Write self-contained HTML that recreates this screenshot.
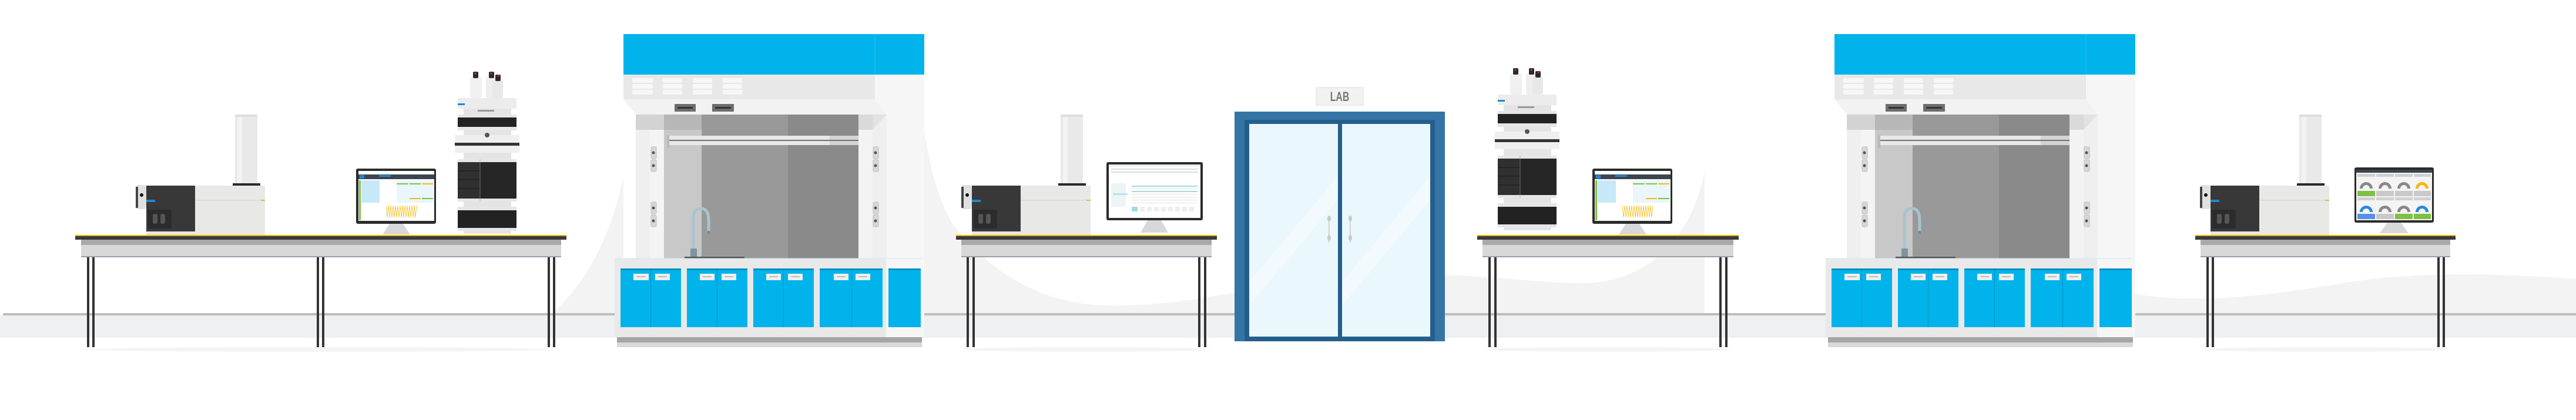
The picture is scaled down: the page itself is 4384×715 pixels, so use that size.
<!DOCTYPE html>
<html><head><meta charset="utf-8"><style>
html,body{margin:0;padding:0;background:#fff;}
svg{display:block}
</style></head><body>
<svg width="4384" height="715" viewBox="0 0 4384 715" xmlns="http://www.w3.org/2000/svg">
<defs>
<g id="ms">
  <rect x="400" y="195" width="38" height="118" fill="#e9e9e9"/>
  <rect x="404" y="197" width="8" height="116" fill="#f3f3f3"/>
  <rect x="400" y="195" width="38" height="4" fill="#dedede"/>
  <rect x="396" y="312" width="47" height="4" fill="#2a2a2a"/>
  <rect x="332" y="316" width="119" height="84" fill="#e8e8e6"/>
  <rect x="332" y="340" width="119" height="2" fill="#dcdcdc"/>
  <rect x="444" y="340" width="7" height="2" fill="#b5d33a"/>
  <rect x="249" y="316" width="83" height="78" fill="#383838"/>
  <rect x="249" y="394" width="83" height="6" fill="#e6e6e6"/>
  <rect x="252" y="357" width="40" height="32" fill="#2c2c2c"/>
  <rect x="260" y="364" width="8" height="17" rx="3" fill="#555"/>
  <rect x="273" y="364" width="8" height="17" rx="3" fill="#555"/>
  <rect x="249" y="340" width="15" height="4" fill="#1e88d0"/>
  <rect x="231" y="315" width="18" height="41" rx="4" fill="#e0e0e0"/>
  <rect x="231" y="318" width="4" height="36" fill="#444"/>
  <circle cx="241" cy="332" r="3" fill="#111"/>
</g>
<g id="lc">
  <rect x="800" y="131" width="20" height="36" rx="4" fill="#f0f0f0"/>
  <rect x="827" y="131" width="20" height="36" rx="4" fill="#eeeeee"/>
  <rect x="838" y="136" width="18" height="31" rx="4" fill="#e8e8e8"/>
  <rect x="805" y="122" width="9" height="11" rx="2" fill="#2a2a2a"/>
  <rect x="832" y="122" width="9" height="11" rx="2" fill="#2a2a2a"/>
  <rect x="843" y="127" width="9" height="11" rx="2" fill="#2a2a2a"/>
  <circle cx="809" cy="125" r="1.5" fill="#e33"/><circle cx="836" cy="125" r="1.5" fill="#e33"/><circle cx="848" cy="129" r="1.5" fill="#e33"/>
  <rect x="779" y="167" width="100" height="18" fill="#ececec"/>
  <rect x="779" y="176" width="12" height="3" fill="#1e88d0"/>
  <rect x="789" y="185" width="81" height="10" fill="#e4e4e4"/>
  <rect x="813" y="187" width="28" height="3" fill="#999"/>
  <rect x="779" y="195" width="100" height="27" fill="#e6e6e6"/>
  <rect x="779" y="200" width="100" height="16" fill="#222"/>
  <rect x="789" y="222" width="81" height="8" fill="#e4e4e4"/>
  <rect x="774" y="230" width="110" height="30" fill="#efefef"/>
  <rect x="774" y="243" width="110" height="5" fill="#333"/>
  <circle cx="829" cy="230" r="4" fill="#555"/>
  <rect x="789" y="260" width="81" height="11" fill="#e4e4e4"/>
  <rect x="779" y="271" width="100" height="72" fill="#e6e6e6"/>
  <rect x="779" y="276" width="100" height="62" fill="#262626"/>
  <rect x="779" y="276" width="38" height="62" fill="#303030"/>
  <line x1="779" y1="291" x2="817" y2="291" stroke="#1a1a1a"/>
  <line x1="779" y1="306" x2="817" y2="306" stroke="#1a1a1a"/>
  <line x1="779" y1="321" x2="817" y2="321" stroke="#1a1a1a"/>
  <line x1="817" y1="271" x2="817" y2="343" stroke="#999" stroke-width="0.6"/>
  <rect x="789" y="343" width="81" height="9" fill="#e4e4e4"/>
  <rect x="779" y="352" width="100" height="41" fill="#e6e6e6"/>
  <rect x="779" y="358" width="100" height="30" fill="#222"/>
  <rect x="789" y="393" width="81" height="5" fill="#e4e4e4"/>
</g>
<g id="mon1">
  <rect x="606" y="287" width="136" height="94" rx="3" fill="#2b2b2b"/>
  <rect x="610" y="291" width="129" height="85" fill="#ffffff"/>
  <rect x="610" y="297" width="129" height="8" fill="#3b4450"/>
  <rect x="612" y="298" width="8" height="6" fill="#1e88d0"/>
  <rect x="645" y="298" width="20" height="3" fill="#1e88d0"/>
  <rect x="611" y="307" width="3" height="68" fill="#7cc142"/>
  <rect x="615" y="307" width="31" height="38" fill="#c7e8f7"/>
  <rect x="675" y="307" width="63" height="38" fill="#e9f6fc"/>
  <rect x="675" y="312" width="20" height="2" fill="#7cc142"/><rect x="697" y="312" width="19" height="2" fill="#7cc142"/><rect x="718" y="312" width="19" height="2" fill="#f5b914"/>
  <rect x="697" y="337" width="19" height="2" fill="#f5b914"/><rect x="718" y="337" width="19" height="2" fill="#7cc142"/>
  <rect x="615" y="345" width="123" height="29" fill="#fff"/>
  <path d="M657 350 L659 370 L661 350 L663 370 L665 350 L667 370 L669 350 L671 370 L673 350 L675 370 L677 350 L679 370 L681 350 L683 370 L685 350 L687 370 L689 350 L691 370 L693 350 L695 370 L697 350 L699 370 L701 350 L703 370 L705 350 L707 370 L709 350" fill="none" stroke="#f5b914" stroke-width="0.8"/>
  <path d="M663 381 L686 381 L698 399 L651 399 Z" fill="#d8d8d8"/>
</g>
<g id="hood">
  <rect x="1061" y="58" width="512" height="69" fill="#00b4eb"/>
  <line x1="1489" y1="58" x2="1489" y2="127" stroke="#2bc0ef" stroke-width="1"/>
  <rect x="1061" y="127" width="428" height="42" fill="#e8e8e8"/>
  <rect x="1489" y="127" width="84" height="447" fill="#f6f6f6"/>
  <g fill="#f7f7f7">
    <rect x="1076" y="133" width="35" height="8" rx="2"/><rect x="1076" y="143" width="35" height="8" rx="2"/><rect x="1076" y="153" width="35" height="8" rx="2"/>
    <rect x="1128" y="133" width="33" height="8" rx="2"/><rect x="1128" y="143" width="33" height="8" rx="2"/><rect x="1128" y="153" width="33" height="8" rx="2"/>
    <rect x="1179" y="133" width="33" height="8" rx="2"/><rect x="1179" y="143" width="33" height="8" rx="2"/><rect x="1179" y="153" width="33" height="8" rx="2"/>
    <rect x="1230" y="133" width="33" height="8" rx="2"/><rect x="1230" y="143" width="33" height="8" rx="2"/><rect x="1230" y="153" width="33" height="8" rx="2"/>
  </g>
  <path d="M1061 169 L1489 169 L1509 195 L1082 195 Z" fill="#f2f2f2"/>
  <rect x="1148" y="177" width="36" height="13" fill="#6d6d6d"/><rect x="1153" y="182" width="26" height="3" fill="#333"/>
  <rect x="1212" y="177" width="37" height="13" fill="#6d6d6d"/><rect x="1217" y="182" width="27" height="3" fill="#333"/>
  <rect x="1082" y="195" width="427" height="245" fill="#efefef"/>
  <rect x="1082" y="195" width="48" height="26" fill="#d3d3d3"/>
  <rect x="1106" y="221" width="24" height="219" fill="#f4f4f4"/>
  <rect x="1130" y="195" width="64" height="245" fill="#c8c8c8"/>
  <rect x="1130" y="195" width="64" height="26" fill="#b7b7b7"/>
  <rect x="1194" y="195" width="147" height="245" fill="#999999"/>
  <rect x="1341" y="195" width="120" height="245" fill="#8a8a8a"/>
  <rect x="1461" y="195" width="24" height="26" fill="#dadada"/>
  <rect x="1461" y="221" width="24" height="219" fill="#f3f3f3"/>
  <path d="M1485 195 L1509 195 L1485 221 Z" fill="#e2e2e2"/>
  <rect x="1135" y="230" width="5" height="22" fill="#b9b9b9"/>
  <rect x="1139" y="231" width="322" height="16" fill="#e8e8e8"/>
  <rect x="1412" y="231" width="49" height="16" fill="#d4d4d4"/>
  <rect x="1139" y="238" width="322" height="2" fill="#707070"/>
  <g fill="#d7d7d7" stroke="#bdbdbd" stroke-width="1">
    <rect x="1108" y="250" width="9" height="20" rx="2"/><rect x="1108" y="272" width="9" height="20" rx="2"/>
    <rect x="1108" y="344" width="9" height="20" rx="2"/><rect x="1108" y="366" width="9" height="20" rx="2"/>
    <rect x="1486" y="250" width="9" height="20" rx="2"/><rect x="1486" y="272" width="9" height="20" rx="2"/>
    <rect x="1486" y="344" width="9" height="20" rx="2"/><rect x="1486" y="366" width="9" height="20" rx="2"/>
  </g>
  <g fill="#555"><circle cx="1112" cy="260" r="2.5"/><circle cx="1112" cy="282" r="2.5"/><circle cx="1112" cy="354" r="2.5"/><circle cx="1112" cy="376" r="2.5"/>
  <circle cx="1490" cy="260" r="2.5"/><circle cx="1490" cy="282" r="2.5"/><circle cx="1490" cy="354" r="2.5"/><circle cx="1490" cy="376" r="2.5"/></g>
  <path d="M1180 425 L1180 370 Q1180 355 1193 355 Q1206 355 1206 375 L1206 395" fill="none" stroke="#a9c3cf" stroke-width="5"/>
  <rect x="1204" y="393" width="4" height="5" fill="#6d8a98"/>
  <rect x="1175" y="423" width="11" height="15" fill="#7e949e"/>
  <rect x="1165" y="437" width="102" height="3" fill="#555"/>
  <rect x="1046" y="440" width="462" height="134" fill="#e9e9e9"/>
  <rect x="1508" y="440" width="61" height="134" fill="#f6f6f6"/>
  <line x1="1046" y1="440" x2="1569" y2="440" stroke="#cfe8f2" stroke-width="1"/>
  <g fill="#00b4eb">
    <rect x="1056" y="457" width="103" height="100"/><rect x="1169" y="457" width="103" height="100"/>
    <rect x="1282" y="457" width="103" height="100"/><rect x="1395" y="457" width="107" height="100"/>
    <rect x="1512" y="457" width="55" height="100"/>
  </g>
  <g fill="#0a8fbd">
    <rect x="1056" y="457" width="103" height="3"/><rect x="1169" y="457" width="103" height="3"/>
    <rect x="1282" y="457" width="103" height="3"/><rect x="1395" y="457" width="107" height="3"/>
    <rect x="1512" y="457" width="55" height="3"/>
    <rect x="1107" y="457" width="1" height="100"/><rect x="1220" y="457" width="1" height="100"/>
    <rect x="1333" y="457" width="1" height="100"/><rect x="1449" y="457" width="1" height="100"/>
  </g>
  <g fill="#f0f0f0"><rect x="1078" y="466" width="26" height="11"/><rect x="1115" y="466" width="25" height="11"/>
  <rect x="1191" y="466" width="25" height="11"/><rect x="1228" y="466" width="25" height="11"/>
  <rect x="1304" y="466" width="25" height="11"/><rect x="1341" y="466" width="25" height="11"/>
  <rect x="1419" y="466" width="25" height="11"/><rect x="1456" y="466" width="25" height="11"/></g>
  <g fill="#bdbdbd"><rect x="1083" y="470" width="16" height="2"/><rect x="1120" y="470" width="15" height="2"/>
  <rect x="1196" y="470" width="15" height="2"/><rect x="1233" y="470" width="15" height="2"/>
  <rect x="1309" y="470" width="15" height="2"/><rect x="1346" y="470" width="15" height="2"/>
  <rect x="1424" y="470" width="15" height="2"/><rect x="1461" y="470" width="15" height="2"/></g>
  <rect x="1050" y="574" width="519" height="9" fill="#a5a5a5"/>
  <rect x="1050" y="583" width="519" height="8" fill="#d9d9d9"/>
</g>
</defs>

<g fill="#f3f3f3">
  <path d="M940 533 C1000 480 1040 400 1061 300 L1061 533 Z"/>
  <path d="M1569 200 C1585 300 1595 330 1620 380 C1690 470 1780 520 1890 520 C1990 520 2060 505 2101 498 L2101 533 L1569 533 Z"/>
  <path d="M2459 468 C2540 470 2620 482 2700 482 C2810 478 2880 400 2901 292 L2901 533 L2459 533 Z"/>
  <path d="M3630 500 C3750 520 3880 500 4000 480 C4120 462 4250 465 4384 475 L4384 533 L3630 533 Z"/>
</g>
<rect x="5" y="533" width="4379" height="4" fill="#bdbdbd"/>
<rect x="0" y="537" width="4384" height="38" fill="#eef0f1"/>

<g fill="#f4f4f4"><ellipse cx="545" cy="595" rx="400" ry="4"/><ellipse cx="1850" cy="595" rx="210" ry="4"/><ellipse cx="2737" cy="595" rx="210" ry="4"/><ellipse cx="3958" cy="595" rx="210" ry="4"/></g>

<use href="#hood"/>
<use href="#hood" transform="translate(2061,0)"/>

<g>
  <rect x="128" y="400" width="836" height="2" fill="#f0b400"/>
  <rect x="128" y="402" width="836" height="6" fill="#3a3a3a"/>
  <rect x="138" y="408" width="817" height="9" fill="#a9a9a9"/>
  <rect x="138" y="417" width="817" height="20" fill="#d8d8d8"/>
  <rect x="138" y="436" width="817" height="2" fill="#9c9cab"/>
  <g fill="#333"><rect x="148" y="438" width="4" height="153"/><rect x="157" y="438" width="4" height="153"/>
  <rect x="539" y="438" width="4" height="153"/><rect x="548" y="438" width="4" height="153"/>
  <rect x="932" y="438" width="4" height="153"/><rect x="941" y="438" width="4" height="153"/></g>
</g>
<g>
  <rect x="1627" y="400" width="444" height="2" fill="#f0b400"/>
  <rect x="1627" y="402" width="444" height="6" fill="#3a3a3a"/>
  <rect x="1636" y="408" width="426" height="9" fill="#a9a9a9"/>
  <rect x="1636" y="417" width="426" height="20" fill="#d8d8d8"/>
  <rect x="1636" y="436" width="426" height="2" fill="#9c9cab"/>
  <g fill="#333"><rect x="1645" y="438" width="4" height="153"/><rect x="1655" y="438" width="4" height="153"/>
  <rect x="2039" y="438" width="4" height="153"/><rect x="2049" y="438" width="4" height="153"/></g>
</g>
<g>
  <rect x="2514" y="400" width="445" height="2" fill="#f0b400"/>
  <rect x="2514" y="402" width="445" height="6" fill="#3a3a3a"/>
  <rect x="2523" y="408" width="427" height="9" fill="#a9a9a9"/>
  <rect x="2523" y="417" width="427" height="20" fill="#d8d8d8"/>
  <rect x="2523" y="436" width="427" height="2" fill="#9c9cab"/>
  <g fill="#333"><rect x="2533" y="438" width="4" height="153"/><rect x="2543" y="438" width="4" height="153"/>
  <rect x="2926" y="438" width="4" height="153"/><rect x="2936" y="438" width="4" height="153"/></g>
</g>
<g>
  <rect x="3736" y="400" width="443" height="2" fill="#f0b400"/>
  <rect x="3736" y="402" width="443" height="6" fill="#3a3a3a"/>
  <rect x="3745" y="408" width="425" height="9" fill="#a9a9a9"/>
  <rect x="3745" y="417" width="425" height="20" fill="#d8d8d8"/>
  <rect x="3745" y="436" width="425" height="2" fill="#9c9cab"/>
  <g fill="#333"><rect x="3755" y="438" width="4" height="153"/><rect x="3764" y="438" width="4" height="153"/>
  <rect x="4148" y="438" width="4" height="153"/><rect x="4157" y="438" width="4" height="153"/></g>
</g>

<use href="#ms"/>
<use href="#ms" transform="translate(1405,0)"/>
<use href="#ms" transform="translate(3513,0)"/>

<use href="#lc"/>
<use href="#lc" transform="translate(1770,-6)"/>

<use href="#mon1"/>
<use href="#mon1" transform="translate(2104,0)"/>

<g>
  <rect x="1883" y="276" width="164" height="99" rx="3" fill="#2b2b2b"/>
  <rect x="1887" y="280" width="156" height="91" fill="#fff"/>
  <rect x="1887" y="280" width="156" height="4" fill="#f0f0f0"/>
  <g fill="#d5dde2"><rect x="1891" y="287" width="148" height="2"/><rect x="1891" y="292" width="148" height="2"/></g>
  <rect x="1891" y="312" width="25" height="40" fill="#eef3f5"/>
  <rect x="1894" y="329" width="25" height="3" fill="#b5e3ec"/>
  <rect x="1926" y="316" width="112" height="2" fill="#9fdbe6"/>
  <rect x="1926" y="325" width="112" height="2" fill="#9fdbe6"/>
  <g fill="#e3e3e3"><rect x="1926" y="320" width="112" height="1"/><rect x="1926" y="330" width="112" height="1"/><rect x="1926" y="335" width="112" height="1"/><rect x="1926" y="340" width="112" height="1"/><rect x="1926" y="345" width="112" height="1"/></g>
  <rect x="1926" y="352" width="10" height="8" fill="#9fdbe6"/>
  <g fill="#eeeeee"><rect x="1940" y="352" width="8" height="8"/><rect x="1952" y="352" width="8" height="8"/><rect x="1964" y="352" width="8" height="8"/><rect x="1976" y="352" width="8" height="8"/><rect x="1988" y="352" width="8" height="8"/><rect x="2000" y="352" width="8" height="8"/><rect x="2012" y="352" width="8" height="8"/><rect x="2024" y="352" width="8" height="8"/></g>
  <path d="M1953 375 L1976 375 L1988 396 L1941 396 Z" fill="#d8d8d8"/>
</g>

<g>
  <rect x="4007" y="285" width="135" height="94" rx="3" fill="#2b2b2b"/>
  <rect x="4010" y="289" width="129" height="86" fill="#f4f4f4"/>
  <rect x="4010" y="289" width="129" height="5" fill="#3b4450"/>
  <rect x="4012" y="296" width="30" height="5" fill="#d0d0d0"/>
  <path d="M4016 321 A11 11 0 0 1 4038 321 L4033 321 A6 6 0 0 0 4021 321 Z" fill="#888"/>
  <rect x="4012" y="325" width="30" height="9" fill="#7cc142"/>
  <rect x="4012" y="336" width="30" height="5" fill="#d0d0d0"/>
  <path d="M4016 361 A11 11 0 0 1 4038 361 L4033 361 A6 6 0 0 0 4021 361 Z" fill="#2a8ad8"/>
  <rect x="4012" y="364" width="30" height="9" fill="#5a8ee6"/>
  <rect x="4044" y="296" width="30" height="5" fill="#d0d0d0"/>
  <path d="M4048 321 A11 11 0 0 1 4070 321 L4065 321 A6 6 0 0 0 4053 321 Z" fill="#888"/>
  <rect x="4044" y="325" width="30" height="9" fill="#c9c9c9"/>
  <rect x="4044" y="336" width="30" height="5" fill="#d0d0d0"/>
  <path d="M4048 361 A11 11 0 0 1 4070 361 L4065 361 A6 6 0 0 0 4053 361 Z" fill="#888"/>
  <rect x="4044" y="364" width="30" height="9" fill="#c9c9c9"/>
  <rect x="4076" y="296" width="30" height="5" fill="#d0d0d0"/>
  <path d="M4080 321 A11 11 0 0 1 4102 321 L4097 321 A6 6 0 0 0 4085 321 Z" fill="#888"/>
  <rect x="4076" y="325" width="30" height="9" fill="#c9c9c9"/>
  <rect x="4076" y="336" width="30" height="5" fill="#d0d0d0"/>
  <path d="M4080 361 A11 11 0 0 1 4102 361 L4097 361 A6 6 0 0 0 4085 361 Z" fill="#888"/>
  <rect x="4076" y="364" width="30" height="9" fill="#7cc142"/>
  <rect x="4108" y="296" width="29" height="5" fill="#d0d0d0"/>
  <path d="M4111 321 A11 11 0 0 1 4133 321 L4128 321 A6 6 0 0 0 4116 321 Z" fill="#f5b914"/>
  <rect x="4108" y="325" width="29" height="9" fill="#c9c9c9"/>
  <rect x="4108" y="336" width="29" height="5" fill="#d0d0d0"/>
  <path d="M4111 361 A11 11 0 0 1 4133 361 L4128 361 A6 6 0 0 0 4116 361 Z" fill="#2a8ad8"/>
  <rect x="4108" y="364" width="29" height="9" fill="#7cc142"/>
  <path d="M4063 379 L4086 379 L4099 397 L4050 397 Z" fill="#d8d8d8"/>
</g>

<rect x="2101" y="190" width="358" height="391" fill="#3575a5"/>
<rect x="2118" y="204" width="324" height="377" fill="#245e8c"/>
<rect x="2126" y="211" width="151" height="362" fill="#eaf7fd"/>
<rect x="2284" y="211" width="150" height="362" fill="#eaf7fd"/>
<path d="M2126 480 L2277 300 L2277 340 L2126 520 Z" fill="#f2fafe"/>
<path d="M2284 480 L2434 300 L2434 340 L2284 520 Z" fill="#f2fafe"/>
<g fill="#c9c9c9"><rect x="2261" y="368" width="1.5" height="45"/><rect x="2297" y="368" width="1.5" height="45"/>
<ellipse cx="2262" cy="372" rx="3" ry="5"/><ellipse cx="2262" cy="405" rx="3" ry="5"/><ellipse cx="2298" cy="372" rx="3" ry="5"/><ellipse cx="2298" cy="405" rx="3" ry="5"/></g>
<rect x="2240" y="149" width="80" height="30" fill="#f2f2f2" stroke="#dedede" stroke-width="1"/>
<text x="2280" y="172" text-anchor="middle" font-family="Liberation Sans, sans-serif" font-size="22" font-weight="bold" fill="#777" transform="translate(2280,0) scale(0.72,1) translate(-2280,0)">LAB</text>
</svg>
</body></html>
